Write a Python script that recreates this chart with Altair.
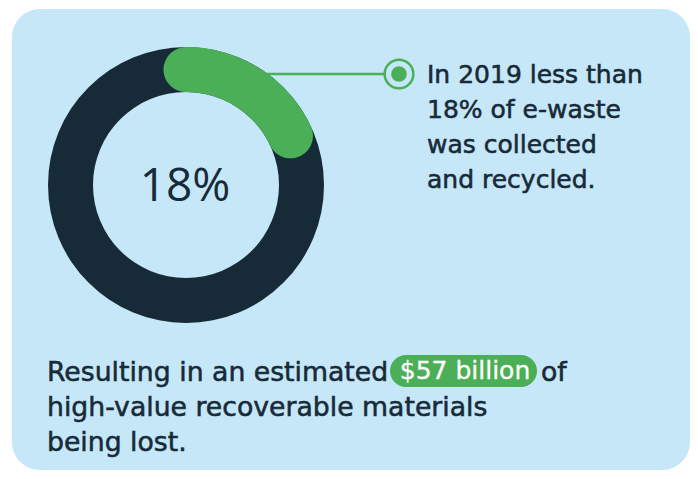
import altair as alt
import pandas as pd

# ---- data ----
parts = ["collected", "not collected"]
shares = [18, 82]
right_lines = ["In 2019 less than", "18% of e-waste", "was collected", "and recycled."]
bottom_line1 = "Resulting in an estimated"
highlight = "$57 billion"
bottom_after = "of"
bottom_lines = ["high-value recoverable materials", "being lost."]

BG = "#C6E7F8"
NAVY = "#172A38"
GREEN = "#4BAF57"
FONT = "DejaVu Sans"
SW = 0.55  # thin outline to give the medium weight of the original face

df = pd.DataFrame({"part": parts, "value": shares})
one = pd.DataFrame({"k": [0]})

W, H = 682, 463
CX, CY = 178, 177
R_OUT, R_IN = 138, 93
CAP = 0.196  # angular extent of the round cap

base1 = alt.Chart(one)

box = base1.mark_rect(color=BG, cornerRadius=28).encode(
    x=alt.value(4), x2=alt.value(682), y=alt.value(1), y2=alt.value(462)
)

ring = alt.Chart(df).transform_filter(alt.datum.part == parts[1]).transform_calculate(
    t0="0", t1="2*PI"
).mark_arc(radius=R_OUT, radius2=R_IN, color=NAVY).encode(
    theta=alt.Theta("t0:Q", scale=None, stack=None),
    theta2="t1:Q",
    x=alt.value(CX), y=alt.value(CY),
)

connector = base1.mark_rule(color=GREEN, strokeWidth=2.5).encode(
    x=alt.value(250), x2=alt.value(378), y=alt.value(66)
)

arc = alt.Chart(df).transform_filter(alt.datum.part == parts[0]).transform_calculate(
    t0=f"-{CAP}", t1=f"datum.value/100*2*PI + {CAP}"
).mark_arc(radius=R_OUT, radius2=R_IN, color=GREEN, cornerRadius=22.5).encode(
    theta=alt.Theta("t0:Q", scale=None, stack=None),
    theta2="t1:Q",
    x=alt.value(CX), y=alt.value(CY),
)

center_txt = alt.Chart(df).transform_filter(alt.datum.part == parts[0]).transform_calculate(
    label="datum.value + '%'"
).mark_text(font="Open Sans", fontSize=46, fontWeight=400, color=NAVY, align="center", baseline="middle").encode(
    text="label:N", x=alt.value(CX - 1), y=alt.value(CY + 2)
)

ring_marker = base1.mark_point(shape="circle", size=824, filled=True, fill=BG, stroke=GREEN,
                               strokeWidth=2.5, opacity=1).encode(x=alt.value(391), y=alt.value(66))
dot_marker = base1.mark_point(shape="circle", size=246, filled=True, color=GREEN, opacity=1).encode(
    x=alt.value(391), y=alt.value(66)
)

right_txt = base1.mark_text(font=FONT, fontSize=25, color=NAVY, stroke=NAVY, strokeWidth=SW, align="left",
                            baseline="alphabetic", lineHeight=35).encode(
    text=alt.value(right_lines), x=alt.value(419), y=alt.value(75)
)

b1 = base1.mark_text(font=FONT, fontSize=26.7, color=NAVY, stroke=NAVY, strokeWidth=SW, align="left",
                     baseline="alphabetic").encode(text=alt.value(bottom_line1), x=alt.value(39), y=alt.value(373))
pill = base1.mark_rect(color=GREEN, cornerRadius=16).encode(
    x=alt.value(382), x2=alt.value(529), y=alt.value(347), y2=alt.value(379)
)
pill_txt = base1.mark_text(font=FONT, fontSize=25, color="white", stroke="white", strokeWidth=0.3, align="center",
                           baseline="alphabetic").encode(text=alt.value(highlight), x=alt.value(457), y=alt.value(371))
b_of = base1.mark_text(font=FONT, fontSize=26.7, color=NAVY, stroke=NAVY, strokeWidth=SW, align="left",
                       baseline="alphabetic").encode(text=alt.value(bottom_after), x=alt.value(533), y=alt.value(373))
b2 = base1.mark_text(font=FONT, fontSize=26.7, color=NAVY, stroke=NAVY, strokeWidth=SW, align="left",
                     baseline="alphabetic", lineHeight=35).encode(text=alt.value(bottom_lines), x=alt.value(39), y=alt.value(408))

chart = alt.layer(box, ring, connector, arc, center_txt, ring_marker, dot_marker, right_txt,
                  b1, pill, pill_txt, b_of, b2).properties(
    width=W, height=H, padding=0, autosize=alt.AutoSizeParams(type="none"), background="white"
).configure_view(strokeWidth=0)

chart.save("out.html", embed_options={"renderer": "svg", "actions": False})
